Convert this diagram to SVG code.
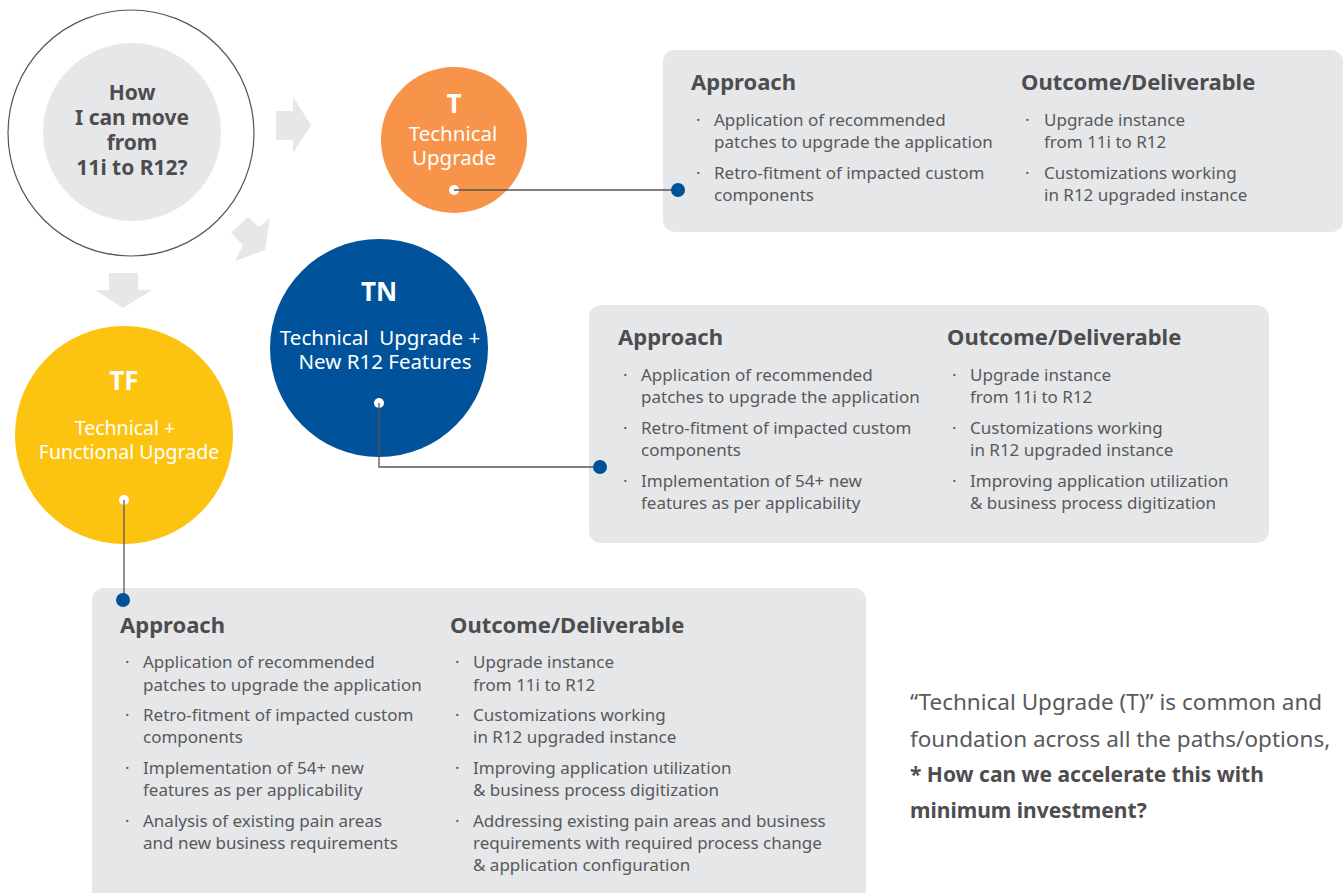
<svg xmlns="http://www.w3.org/2000/svg" width="1344" height="893" viewBox="0 0 1344 893">
<style>
.box{fill:#e6e7e9}
.arrow{fill:#e6e7e9}
.hd{font-family:"Noto Sans","Liberation Sans",sans-serif;font-weight:bold;font-size:22px;fill:#4d4d4f}
.tx{font-family:"Noto Sans","Liberation Sans",sans-serif;font-size:17px;fill:#58595b}
.bl{font-family:"Noto Sans","Liberation Sans",sans-serif;font-size:17px;fill:#58595b}
.ct{font-family:"Noto Sans","Liberation Sans",sans-serif;font-weight:bold;font-size:21px;fill:#4d4d4f;text-anchor:middle}
.wb{font-family:"Noto Sans","Liberation Sans",sans-serif;font-weight:bold;font-size:26px;fill:#ffffff;text-anchor:middle}
.wt{font-family:"Noto Sans","Liberation Sans",sans-serif;font-size:20.5px;fill:#ffffff;text-anchor:middle}
.wt2{font-family:"Noto Sans","Liberation Sans",sans-serif;font-size:19.5px;fill:#ffffff;text-anchor:middle}
.note{font-family:"Noto Sans","Liberation Sans",sans-serif;font-size:22.5px;fill:#58595b}
.noteb{font-family:"Noto Sans","Liberation Sans",sans-serif;font-size:21px;font-weight:bold;fill:#4d4d4f}
.conn{fill:none;stroke:#555555;stroke-width:1.3}
.bdot{fill:#00539b}
.wdot{fill:#ffffff}
</style>

<g id="start">
<circle cx="131" cy="133" r="123" fill="#ffffff" stroke="#555555" stroke-width="1.2"/>
<circle cx="132" cy="132" r="89" fill="#e6e7e9"/>
<text class="ct" x="132" y="100">How</text>
<text class="ct" x="132" y="125">I can move</text>
<text class="ct" x="132" y="150">from</text>
<text class="ct" x="132" y="175">11i to R12?</text>
</g>

<g id="arrows">
<polygon class="arrow" points="276,111 293,111 293,97 311,125 293,153 293,140 276,140"/>
<polygon class="arrow" points="231,233 248,217 259,227 270,218 265,250 235,261 243,245"/>
<polygon class="arrow" points="109,273 138,273 138,290 152,290 123,308 95,290 109,290"/>
</g>

<g id="node-T">
<circle cx="454" cy="140" r="73" fill="#f7944a"/>
<text class="wb" x="454" y="113">T</text>
<text class="wt" x="453" y="141">Technical</text>
<text class="wt" x="454" y="165">Upgrade</text>
<circle class="wdot" cx="454" cy="190" r="5"/>
</g>

<g id="node-TN">
<circle cx="379" cy="348" r="109" fill="#00539b"/>
<text class="wb" x="379" y="301">TN</text>
<text class="wt" x="380" y="345" xml:space="preserve">Technical  Upgrade +</text>
<text class="wt" x="385" y="369">New R12 Features</text>
<circle class="wdot" cx="379" cy="403" r="5"/>
</g>

<g id="node-TF">
<circle cx="124" cy="435" r="109" fill="#fdc311"/>
<text class="wb" x="124" y="390">TF</text>
<text class="wt2" x="125" y="435">Technical +</text>
<text class="wt2" x="129" y="459">Functional Upgrade</text>
<circle class="wdot" cx="124" cy="500" r="5"/>
</g>

<g id="box-T">
<rect class="box" x="663" y="50" width="680" height="182" rx="12"/>
<text class="hd" x="691" y="90">Approach</text>
<text class="bl" x="696" y="126">·</text>
<text class="tx" x="714" y="126">Application of recommended</text>
<text class="tx" x="714" y="148">patches to upgrade the application</text>
<text class="bl" x="696" y="179">·</text>
<text class="tx" x="714" y="179">Retro-fitment of impacted custom</text>
<text class="tx" x="714" y="201">components</text>
<text class="hd" x="1021" y="90">Outcome/Deliverable</text>
<text class="bl" x="1025" y="126">·</text>
<text class="tx" x="1044" y="126">Upgrade instance</text>
<text class="tx" x="1044" y="148">from 11i to R12</text>
<text class="bl" x="1025" y="179">·</text>
<text class="tx" x="1044" y="179">Customizations working</text>
<text class="tx" x="1044" y="201">in R12 upgraded instance</text>
</g>

<g id="box-TN">
<rect class="box" x="589" y="305" width="680" height="238" rx="12"/>
<text class="hd" x="618" y="345">Approach</text>
<text class="bl" x="623" y="381">·</text>
<text class="tx" x="641" y="381">Application of recommended</text>
<text class="tx" x="641" y="403">patches to upgrade the application</text>
<text class="bl" x="623" y="434">·</text>
<text class="tx" x="641" y="434">Retro-fitment of impacted custom</text>
<text class="tx" x="641" y="456">components</text>
<text class="bl" x="623" y="487">·</text>
<text class="tx" x="641" y="487">Implementation of 54+ new</text>
<text class="tx" x="641" y="509">features as per applicability</text>
<text class="hd" x="947" y="345">Outcome/Deliverable</text>
<text class="bl" x="952" y="381">·</text>
<text class="tx" x="970" y="381">Upgrade instance</text>
<text class="tx" x="970" y="403">from 11i to R12</text>
<text class="bl" x="952" y="434">·</text>
<text class="tx" x="970" y="434">Customizations working</text>
<text class="tx" x="970" y="456">in R12 upgraded instance</text>
<text class="bl" x="952" y="487">·</text>
<text class="tx" x="970" y="487">Improving application utilization</text>
<text class="tx" x="970" y="509">&amp; business process digitization</text>
</g>

<g id="box-TF">
<rect class="box" x="92" y="588" width="774" height="320" rx="12"/>
<text class="hd" x="120" y="633">Approach</text>
<text class="bl" x="125" y="668">·</text>
<text class="tx" x="143" y="668">Application of recommended</text>
<text class="tx" x="143" y="691">patches to upgrade the application</text>
<text class="bl" x="125" y="721">·</text>
<text class="tx" x="143" y="721">Retro-fitment of impacted custom</text>
<text class="tx" x="143" y="743">components</text>
<text class="bl" x="125" y="774">·</text>
<text class="tx" x="143" y="774">Implementation of 54+ new</text>
<text class="tx" x="143" y="796">features as per applicability</text>
<text class="bl" x="125" y="827">·</text>
<text class="tx" x="143" y="827">Analysis of existing pain areas</text>
<text class="tx" x="143" y="849">and new business requirements</text>
<text class="hd" x="450" y="633">Outcome/Deliverable</text>
<text class="bl" x="455" y="668">·</text>
<text class="tx" x="473" y="668">Upgrade instance</text>
<text class="tx" x="473" y="691">from 11i to R12</text>
<text class="bl" x="455" y="721">·</text>
<text class="tx" x="473" y="721">Customizations working</text>
<text class="tx" x="473" y="743">in R12 upgraded instance</text>
<text class="bl" x="455" y="774">·</text>
<text class="tx" x="473" y="774">Improving application utilization</text>
<text class="tx" x="473" y="796">&amp; business process digitization</text>
<text class="bl" x="455" y="827">·</text>
<text class="tx" x="473" y="827">Addressing existing pain areas and business</text>
<text class="tx" x="473" y="849">requirements with required process change</text>
<text class="tx" x="473" y="871">&amp; application configuration</text>
</g>

<g id="connectors">
<path class="conn" d="M454,190 H678"/>
<path class="conn" d="M379,403 V467 H600"/>
<path class="conn" d="M124,500 V600"/>
<circle class="bdot" cx="678" cy="190" r="7"/>
<circle class="bdot" cx="600" cy="467" r="7"/>
<circle class="bdot" cx="123" cy="600" r="7"/>
</g>

<g id="note">
<text class="note" x="910" y="710">“Technical Upgrade (T)” is common and</text>
<text class="note" x="910" y="747">foundation across all the paths/options,</text>
<text class="noteb" x="910" y="782">* How can we accelerate this with</text>
<text class="noteb" x="910" y="818">minimum investment?</text>
</g>
</svg>
